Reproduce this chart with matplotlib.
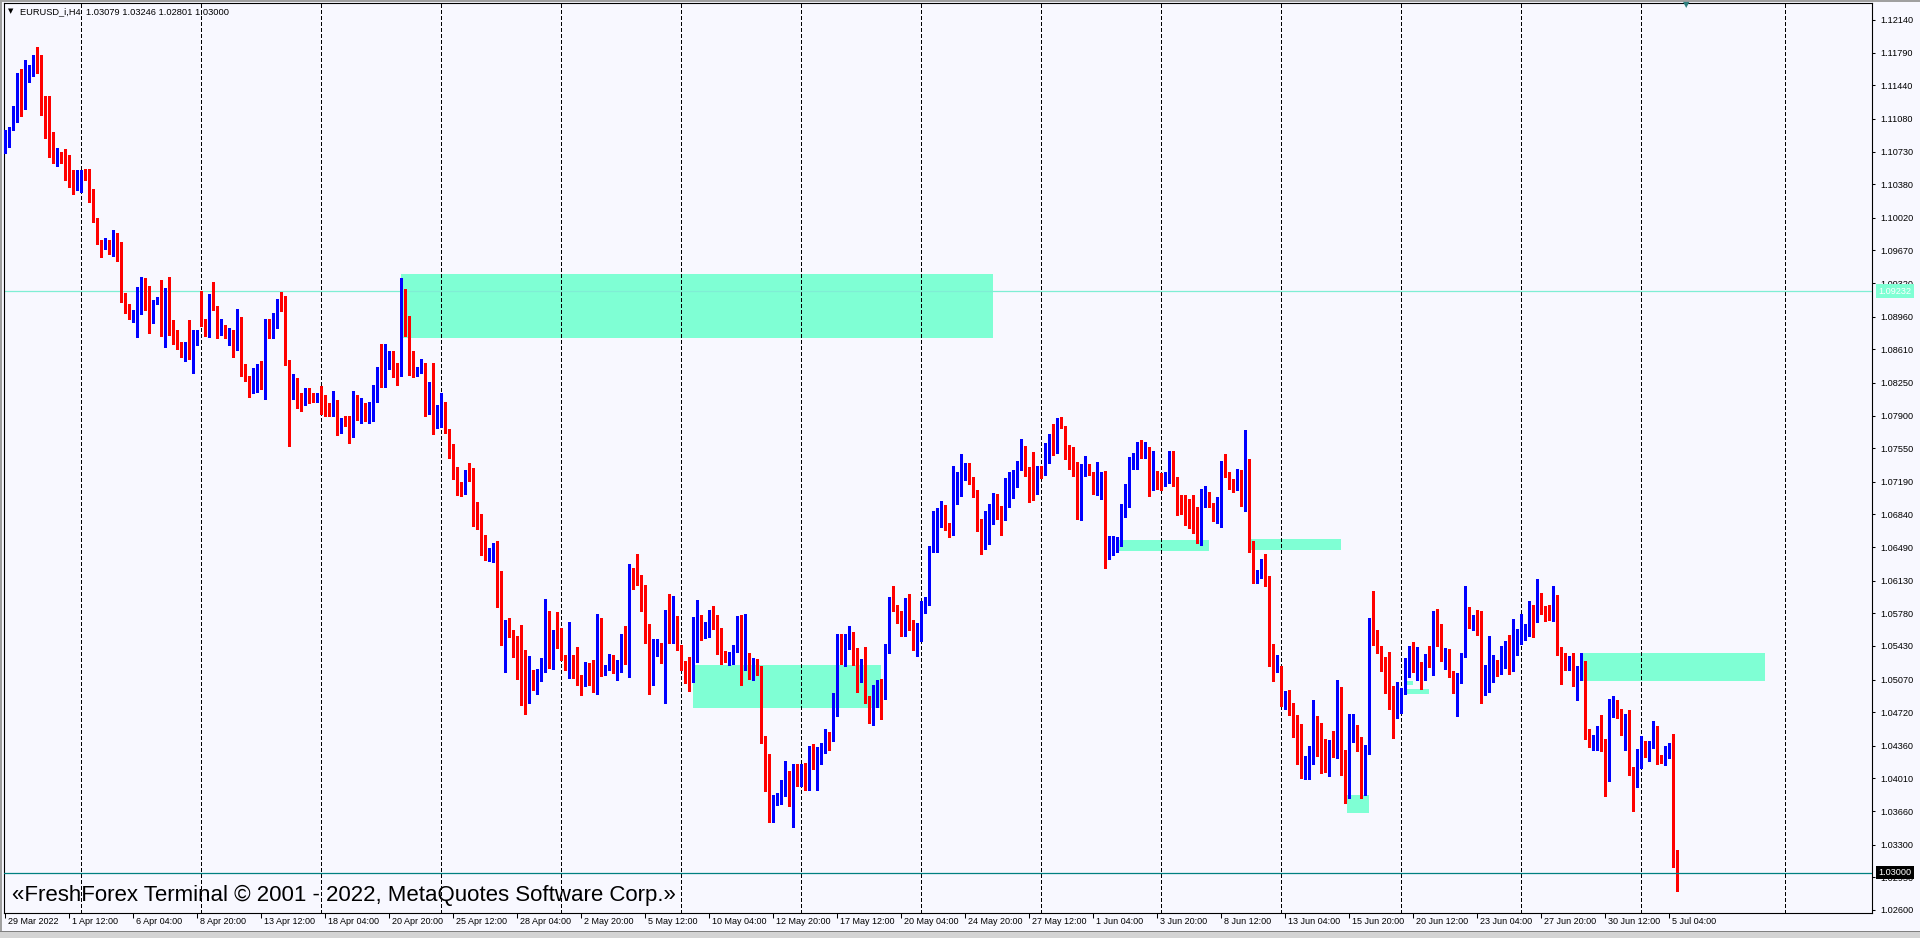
import numpy as np
import pandas as pd
import matplotlib
matplotlib.use("Agg")
import matplotlib.pyplot as plt
from matplotlib.patches import Rectangle

plt.rcParams["font.family"] = ["Liberation Sans", "DejaVu Sans"]

symbol = "EURUSD_i,H4"
first_bar = "2022-03-29 20:00"
last_bar = "2022-07-05 12:00"

# H4 bars, prices in points (1 point = 0.0001)
open_pts = [
    11080, 11086, 11097, 11110, 11157, 11125, 11156, 11156, 11174, 11161,
    11129, 11102, 11082, 11062, 11067, 11064, 11061, 11044, 11039, 11031,
    11049, 11049, 11022, 10999, 10975, 10969, 10976, 10963, 10968, 10964,
    10915, 10906, 10894, 10896, 10923, 10933, 10908, 10890, 10911, 10915,
    10878, 10914, 10877, 10876, 10863, 10854, 10867, 10852, 10873, 10916,
    10888, 10884, 10907, 10905, 10877, 10883, 10875, 10880, 10862, 10895,
    10842, 10828, 10816, 10834, 10837, 10818, 10883, 10880, 10885, 10913,
    10908, 10849, 10816, 10828, 10809, 10805, 10818, 10812, 10805, 10803,
    10801, 10792, 10790, 10806, 10773, 10780, 10779, 10772, 10811, 10794,
    10797, 10787, 10795, 10819, 10840, 10828, 10843, 10849, 10837, 10832,
    10921, 10891, 10844, 10834, 10837, 10845, 10797, 10819, 10779, 10801,
    10803, 10774, 10750, 10728, 10716, 10710, 10731, 10728, 10682, 10679,
    10660, 10636, 10643, 10649, 10588, 10555, 10563, 10560, 10539, 10518,
    10516, 10484, 10513, 10497, 10515, 10515, 10570, 10531, 10550, 10548,
    10530, 10518, 10529, 10511, 10510, 10502, 10525, 10502, 10500, 10568,
    10515, 10519, 10525, 10517, 10522, 10551, 10549, 10618, 10615, 10613,
    10600, 10554, 10511, 10540, 10542, 10532, 10557, 10554, 10570, 10539,
    10520, 10513, 10507, 10562, 10573, 10552, 10558, 10576, 10573, 10552,
    10534, 10524, 10531, 10540, 10568, 10520, 10532, 10514, 10525, 10519,
    10441, 10416, 10358, 10380, 10381, 10397, 10408, 10377, 10409, 10407,
    10411, 10398, 10433, 10423, 10424, 10434, 10447, 10441, 10490, 10543,
    10542, 10543, 10555, 10529, 10508, 10522, 10489, 10460, 10488, 10497,
    10495, 10536, 10593, 10582, 10576, 10573, 10577, 10565, 10549, 10560,
    10582, 10591, 10644, 10648, 10677, 10688, 10670, 10663, 10704, 10707,
    10730, 10732, 10723, 10706, 10671, 10651, 10653, 10677, 10705, 10682,
    10682, 10697, 10706, 10714, 10740, 10754, 10731, 10716, 10710, 10735,
    10730, 10757, 10764, 10752, 10786, 10774, 10746, 10744, 10730, 10681,
    10731, 10732, 10728, 10714, 10718, 10726, 10639, 10642, 10656, 10657,
    10683, 10702, 10745, 10742, 10760, 10746, 10754, 10716, 10729, 10720,
    10716, 10726, 10751, 10723, 10701, 10691, 10685, 10683, 10679, 10654,
    10701, 10701, 10693, 10678, 10678, 10732, 10728, 10717, 10711, 10726,
    10715, 10734, 10652, 10615, 10623, 10631, 10615, 10524, 10516, 10516,
    10485, 10492, 10476, 10466, 10437, 10408, 10423, 10423, 10466, 10449,
    10421, 10406, 10435, 10426, 10494, 10415, 10385, 10450, 10453, 10439,
    10410, 10428, 10560, 10547, 10541, 10528, 10521, 10495, 10467, 10476,
    10493, 10522, 10525, 10516, 10524, 10507, 10533, 10522, 10579, 10551,
    10534, 10531, 10513, 10496, 10507, 10531, 10576, 10564, 10576, 10568,
    10493, 10504, 10508, 10518, 10517, 10541, 10545, 10524, 10547, 10546,
    10557, 10564, 10585, 10569, 10598, 10582, 10576, 10575, 10592, 10538,
    10524, 10517, 10522, 10504, 10510, 10522, 10445, 10438, 10441, 10453,
    10441, 10398, 10482, 10479, 10471, 10453, 10458, 10407, 10400, 10414,
    10435, 10426, 10437, 10452, 10425, 10415, 10434, 10438, 10307.9,
]
high_pts = [
    11096, 11099, 11122, 11157, 11161, 11171, 11166, 11176, 11185, 11176,
    11132, 11132, 11094, 11077, 11073, 11076, 11069, 11053, 11053, 11053,
    11054, 11054, 11033, 11002, 10978, 10980, 10978, 10989, 10986, 10976,
    10921, 10910, 10903, 10928, 10938, 10937, 10929, 10914, 10917, 10935,
    10927, 10938, 10892, 10882, 10869, 10869, 10892, 10882, 10882, 10923,
    10894, 10920, 10933, 10907, 10894, 10887, 10884, 10882, 10904, 10896,
    10845, 10832, 10841, 10845, 10848, 10894, 10893, 10900, 10915, 10922,
    10918, 10850, 10835, 10830, 10814, 10819, 10819, 10814, 10814, 10822,
    10812, 10803, 10816, 10807, 10787, 10789, 10789, 10816, 10812, 10809,
    10803, 10804, 10823, 10842, 10867, 10867, 10859, 10859, 10846, 10937,
    10926, 10897, 10859, 10842, 10851, 10846, 10826, 10846, 10801, 10814,
    10805, 10776, 10759, 10735, 10719, 10732, 10739, 10734, 10697, 10685,
    10662, 10648, 10653, 10655, 10623, 10571, 10573, 10560, 10554, 10565,
    10539, 10532, 10517, 10518, 10530, 10593, 10581, 10560, 10579, 10562,
    10533, 10569, 10533, 10542, 10512, 10526, 10525, 10528, 10577, 10573,
    10523, 10534, 10533, 10528, 10556, 10564, 10631, 10627, 10642, 10619,
    10608, 10567, 10550, 10550, 10546, 10582, 10599, 10597, 10575, 10544,
    10527, 10531, 10574, 10592, 10576, 10569, 10582, 10586, 10576, 10562,
    10538, 10537, 10544, 10575, 10576, 10577, 10535, 10530, 10529, 10521,
    10447, 10427, 10383, 10385, 10399, 10420, 10409, 10417, 10416, 10417,
    10418, 10436, 10438, 10435, 10439, 10454, 10451, 10493, 10556, 10556,
    10556, 10564, 10558, 10541, 10529, 10542, 10489, 10501, 10507, 10508,
    10545, 10596, 10607, 10587, 10580, 10594, 10599, 10571, 10568, 10591,
    10596, 10650, 10688, 10691, 10698, 10694, 10675, 10736, 10729, 10749,
    10739, 10739, 10724, 10710, 10679, 10688, 10695, 10707, 10706, 10693,
    10723, 10730, 10732, 10741, 10765, 10757, 10735, 10751, 10736, 10736,
    10761, 10770, 10781, 10787, 10788, 10779, 10758, 10756, 10740, 10738,
    10747, 10738, 10730, 10740, 10729, 10731, 10661, 10661, 10660, 10695,
    10717, 10746, 10750, 10762, 10764, 10762, 10756, 10752, 10731, 10728,
    10729, 10752, 10752, 10724, 10705, 10705, 10701, 10705, 10692, 10711,
    10714, 10708, 10696, 10703, 10741, 10749, 10729, 10722, 10733, 10732,
    10774, 10743, 10656, 10624, 10636, 10642, 10618, 10545, 10533, 10521,
    10495, 10496, 10482, 10469, 10459, 10425, 10436, 10485, 10468, 10460,
    10443, 10442, 10452, 10507, 10499, 10432, 10470, 10470, 10458, 10445,
    10437, 10573, 10602, 10560, 10543, 10531, 10537, 10500, 10504, 10498,
    10530, 10543, 10547, 10542, 10526, 10534, 10543, 10580, 10583, 10567,
    10541, 10540, 10516, 10514, 10536, 10607, 10585, 10576, 10582, 10580,
    10523, 10554, 10533, 10528, 10543, 10548, 10555, 10572, 10561, 10577,
    10567, 10591, 10587, 10615, 10600, 10586, 10587, 10607, 10598, 10542,
    10535, 10532, 10535, 10521, 10535, 10527, 10454, 10448, 10457, 10469,
    10443, 10486, 10489, 10485, 10475, 10470, 10474, 10413, 10433, 10447,
    10441, 10441, 10463, 10457, 10426, 10436, 10439, 10449, 10324.6,
]
low_pts = [
    11071, 11078, 11096, 11105, 11111, 11119, 11148, 11154, 11157, 11112,
    11088, 11067, 11061, 11058, 11061, 11042, 11035, 11028, 11032, 11030,
    11042, 11019, 10997, 10974, 10960, 10968, 10963, 10961, 10956, 10912,
    10900, 10893, 10890, 10874, 10899, 10903, 10879, 10889, 10910, 10875,
    10864, 10876, 10867, 10861, 10853, 10848, 10851, 10836, 10866, 10886,
    10875, 10874, 10903, 10873, 10876, 10873, 10866, 10853, 10860, 10832,
    10827, 10810, 10814, 10815, 10818, 10808, 10873, 10873, 10884, 10902,
    10844, 10757, 10808, 10798, 10795, 10801, 10803, 10804, 10804, 10792,
    10789, 10789, 10789, 10769, 10771, 10779, 10761, 10767, 10785, 10782,
    10784, 10782, 10784, 10805, 10821, 10821, 10840, 10831, 10823, 10832,
    10875, 10833, 10831, 10832, 10836, 10790, 10792, 10770, 10777, 10778,
    10771, 10745, 10722, 10705, 10704, 10706, 10720, 10672, 10668, 10641,
    10635, 10634, 10633, 10585, 10544, 10515, 10553, 10531, 10508, 10480,
    10470, 10482, 10496, 10491, 10505, 10515, 10519, 10518, 10541, 10528,
    10517, 10509, 10509, 10501, 10490, 10500, 10501, 10494, 10492, 10511,
    10512, 10517, 10514, 10506, 10515, 10524, 10510, 10604, 10608, 10581,
    10546, 10492, 10501, 10532, 10525, 10482, 10546, 10546, 10539, 10517,
    10503, 10495, 10504, 10526, 10549, 10552, 10553, 10561, 10534, 10524,
    10526, 10523, 10524, 10537, 10501, 10517, 10508, 10507, 10512, 10439,
    10388, 10354, 10354, 10373, 10374, 10382, 10371, 10349, 10393, 10393,
    10389, 10389, 10411, 10389, 10417, 10428, 10432, 10441, 10468, 10524,
    10521, 10540, 10523, 10494, 10504, 10482, 10460, 10458, 10478, 10465,
    10486, 10535, 10581, 10568, 10554, 10554, 10560, 10539, 10532, 10548,
    10578, 10587, 10644, 10644, 10671, 10667, 10660, 10662, 10695, 10704,
    10721, 10717, 10703, 10666, 10642, 10647, 10652, 10674, 10679, 10662,
    10678, 10692, 10702, 10713, 10732, 10725, 10697, 10700, 10706, 10723,
    10726, 10739, 10748, 10750, 10777, 10743, 10733, 10725, 10679, 10678,
    10725, 10726, 10706, 10705, 10701, 10627, 10636, 10641, 10644, 10650,
    10681, 10692, 10733, 10733, 10745, 10745, 10704, 10710, 10711, 10710,
    10715, 10718, 10715, 10683, 10684, 10673, 10669, 10664, 10653, 10651,
    10692, 10692, 10677, 10675, 10671, 10724, 10711, 10708, 10710, 10693,
    10688, 10644, 10611, 10611, 10616, 10607, 10521, 10505, 10515, 10479,
    10475, 10469, 10445, 10417, 10401, 10400, 10400, 10417, 10425, 10407,
    10408, 10404, 10424, 10423, 10405, 10375, 10380, 10440, 10430, 10380,
    10383, 10427, 10544, 10535, 10516, 10493, 10475, 10444, 10466, 10471,
    10491, 10510, 10515, 10507, 10497, 10506, 10520, 10512, 10543, 10527,
    10518, 10510, 10493, 10468, 10503, 10531, 10562, 10560, 10555, 10482,
    10490, 10494, 10504, 10511, 10513, 10519, 10513, 10516, 10533, 10545,
    10549, 10554, 10553, 10569, 10577, 10570, 10571, 10570, 10533, 10502,
    10517, 10517, 10500, 10485, 10506, 10443, 10435, 10432, 10432, 10430,
    10382, 10398, 10467, 10466, 10448, 10432, 10405, 10366, 10392, 10412,
    10424, 10420, 10434, 10417, 10418, 10415, 10423, 10306, 10280.1,
]
close_pts = [
    11087, 11098, 11111, 11157, 11125, 11157, 11158, 11174, 11158, 11128,
    11101, 11081, 11063, 11067, 11063, 11060, 11044, 11039, 11049, 11049,
    11047, 11021, 10998, 10974, 10971, 10976, 10964, 10968, 10964, 10914,
    10903, 10894, 10897, 10927, 10933, 10907, 10891, 10912, 10915, 10877,
    10914, 10876, 10876, 10862, 10854, 10867, 10853, 10873, 10877, 10887,
    10884, 10907, 10905, 10877, 10883, 10874, 10880, 10862, 10895, 10841,
    10827, 10816, 10834, 10837, 10818, 10883, 10880, 10885, 10913, 10908,
    10847, 10816, 10828, 10808, 10805, 10818, 10811, 10806, 10813, 10800,
    10792, 10790, 10806, 10773, 10784, 10779, 10772, 10811, 10794, 10797,
    10788, 10797, 10819, 10840, 10828, 10843, 10855, 10835, 10832, 10921,
    10891, 10834, 10832, 10838, 10846, 10797, 10819, 10779, 10797, 10802,
    10774, 10750, 10728, 10714, 10711, 10731, 10727, 10682, 10678, 10659,
    10636, 10644, 10649, 10587, 10555, 10563, 10558, 10538, 10517, 10515,
    10484, 10513, 10497, 10516, 10516, 10570, 10531, 10550, 10542, 10530,
    10518, 10529, 10510, 10509, 10507, 10525, 10501, 10500, 10568, 10515,
    10519, 10525, 10517, 10523, 10552, 10549, 10618, 10614, 10612, 10600,
    10553, 10511, 10540, 10542, 10532, 10557, 10554, 10570, 10545, 10519,
    10512, 10507, 10563, 10574, 10558, 10559, 10576, 10571, 10551, 10533,
    10529, 10532, 10541, 10568, 10521, 10532, 10513, 10525, 10518, 10440,
    10415, 10358, 10381, 10382, 10398, 10408, 10377, 10409, 10407, 10410,
    10398, 10433, 10423, 10425, 10435, 10447, 10441, 10491, 10543, 10542,
    10550, 10555, 10528, 10508, 10522, 10486, 10460, 10489, 10496, 10495,
    10538, 10595, 10582, 10575, 10573, 10577, 10564, 10549, 10562, 10582,
    10591, 10646, 10650, 10678, 10692, 10669, 10662, 10705, 10708, 10731,
    10736, 10722, 10704, 10670, 10651, 10654, 10678, 10705, 10681, 10681,
    10698, 10707, 10730, 10741, 10754, 10730, 10715, 10710, 10732, 10730,
    10758, 10763, 10752, 10786, 10779, 10745, 10743, 10729, 10681, 10732,
    10732, 10727, 10714, 10719, 10726, 10639, 10652, 10657, 10658, 10685,
    10703, 10745, 10746, 10760, 10746, 10753, 10716, 10729, 10718, 10716,
    10727, 10751, 10722, 10699, 10695, 10683, 10682, 10678, 10654, 10702,
    10705, 10692, 10678, 10679, 10732, 10727, 10716, 10711, 10726, 10715,
    10734, 10651, 10617, 10623, 10631, 10615, 10522, 10517, 10519, 10485,
    10492, 10475, 10466, 10436, 10408, 10424, 10425, 10466, 10449, 10420,
    10418, 10435, 10426, 10494, 10414, 10385, 10448, 10453, 10438, 10410,
    10428, 10560, 10549, 10540, 10527, 10520, 10494, 10467, 10496, 10494,
    10524, 10525, 10516, 10524, 10510, 10533, 10522, 10579, 10550, 10533,
    10535, 10512, 10496, 10507, 10532, 10575, 10568, 10574, 10567, 10493,
    10505, 10509, 10522, 10517, 10541, 10545, 10524, 10548, 10557, 10556,
    10566, 10585, 10569, 10598, 10581, 10576, 10575, 10592, 10537, 10523,
    10520, 10522, 10504, 10511, 10522, 10444, 10441, 10442, 10453, 10441,
    10398, 10483, 10484, 10471, 10453, 10458, 10406, 10401, 10425, 10435,
    10426, 10437, 10452, 10423, 10422, 10435, 10438, 10308, 10300,
]

date_labels = [
    "29 Mar 2022", "1 Apr 12:00", "6 Apr 04:00", "8 Apr 20:00", "13 Apr 12:00",
    "18 Apr 04:00", "20 Apr 20:00", "25 Apr 12:00", "28 Apr 04:00", "2 May 20:00",
    "5 May 12:00", "10 May 04:00", "12 May 20:00", "17 May 12:00", "20 May 04:00",
    "24 May 20:00", "27 May 12:00", "1 Jun 04:00", "3 Jun 20:00", "8 Jun 12:00",
    "13 Jun 04:00", "15 Jun 20:00", "20 Jun 12:00", "23 Jun 04:00", "27 Jun 20:00",
    "30 Jun 12:00", "5 Jul 04:00",
]
bars_per_label = 16

price_ticks = [
    1.12140, 1.11790, 1.11440, 1.11080, 1.10730, 1.10380, 1.10020, 1.09670,
    1.09320, 1.08960, 1.08610, 1.08250, 1.07900, 1.07550, 1.07190, 1.06840,
    1.06490, 1.06130, 1.05780, 1.05430, 1.05070, 1.04720, 1.04360, 1.04010,
    1.03660, 1.03300, 1.02950, 1.02600,
]

hline_level = 1.09232
bid_level = 1.03000

# rectangles drawn on the chart (bar index from/to, price top/bottom)
zone_start = [99, 172, 278.25, 311.5, 335.5, 350.4, 350.4, 394.2]
zone_end = [247, 219, 301, 334, 341, 352, 356, 439.9]
zone_top = [1.09417, 1.05226, 1.06566, 1.06577, 1.03833, 1.05055, 1.04969, 1.05355]
zone_bottom = [1.08735, 1.04768, 1.06451, 1.06462, 1.03643, 1.05012, 1.04918, 1.05055]

future_grid_bar = 445

opens = np.array(open_pts) / 1e4
highs = np.array(high_pts) / 1e4
lows = np.array(low_pts) / 1e4
closes = np.array(close_pts) / 1e4
highs = np.maximum(highs, np.maximum(opens, closes))
lows = np.minimum(lows, np.minimum(opens, closes))

times = pd.date_range(first_bar, last_bar, freq="4h")
times = times[times.dayofweek < 5][: len(closes)]
week_bars = [i for i, t in enumerate(times) if t.dayofweek == 0 and t.hour == 0]
grid_bars = week_bars + [future_grid_bar]

W, H = 1920, 938
BG = "#F8F8FF"
fig = plt.figure(figsize=(W / 100, H / 100), dpi=100, facecolor=BG)
ax = fig.add_axes([4 / W, 1 - 913 / H, 1868 / W, 910 / H])
ax.set_facecolor(BG)
ax.set_xlim(-0.25, 466.75)
ax.set_ylim(1.025677, 1.123222)
for s in ax.spines.values():
    s.set_color("black")
    s.set_linewidth(0.8)

x = np.arange(len(closes))
cols = np.where(closes >= opens, "#0000FF", "#FF0000")
ax.vlines(x, lows, highs, colors=cols, linewidth=0.75, zorder=3, antialiased=False)
body_lo = np.minimum(opens, closes)
body_h = np.maximum(np.abs(closes - opens), 0.00008)
ax.bar(x, body_h, bottom=body_lo, width=0.75, color=cols, linewidth=0,
       zorder=4, antialiased=False)

for xs, xe, top, bot in zip(zone_start, zone_end, zone_top, zone_bottom):
    ax.add_patch(Rectangle((xs, bot), xe - xs, top - bot, facecolor="#7FFFD4",
                           edgecolor="none", zorder=1))

for b in grid_bars:
    ax.axvline(b, color="black", linewidth=0.75, linestyle=(0, (3.5, 2.5)),
               zorder=2, antialiased=False)

ax.axhline(hline_level, color="#7FEED4", linewidth=0.9, zorder=2)
ax.axhline(bid_level, color="#008080", linewidth=0.9, zorder=5)

# price scale
ax.yaxis.tick_right()
ax.set_yticks(price_ticks)
ax.set_yticklabels([f"{p:.5f}" for p in price_ticks])
ax.tick_params(axis="y", length=2.5, width=0.75, pad=3.5, labelsize=6.6,
               colors="black")
for lvl, fc in [(hline_level, "#7FFFD4"), (bid_level, "black")]:
    ax.annotate(f"{lvl:.5f}", xy=(1, lvl), xycoords=("axes fraction", "data"),
                xytext=(4.6, 0), textcoords="offset points", ha="left",
                va="center", fontsize=6.6, color="white", zorder=10,
                annotation_clip=False,
                bbox=dict(boxstyle="square,pad=0.25", fc=fc, ec="none"))

# time scale
label_bars = np.arange(len(date_labels)) * bars_per_label
ax.set_xticks(label_bars)
ax.set_xticklabels([])
ax.tick_params(axis="x", length=3.5, width=0.75, direction="out")
for b, lab in zip(label_bars, date_labels):
    ax.annotate(lab, xy=(b, 0), xycoords=("data", "axes fraction"),
                xytext=(2, -3), textcoords="offset points", ha="left",
                va="top", fontsize=6.5, annotation_clip=False)

# header and watermark
fig.text(8 / W, 1 - 11.5 / H, "\u25bc", fontsize=5, va="center",
         family="DejaVu Sans")
fig.text(20.5 / W, 1 - 11.5 / H,
         f"{symbol}  {opens[-1]:.5f} {highs[-1]:.5f} {lows[-1]:.5f} {closes[-1]:.5f}",
         fontsize=6.7, va="center")
fig.text(1686 / W, 1 - 5 / H, "\u25bc", fontsize=6, ha="center", va="center",
         color="#2F7F7F", family="DejaVu Sans")
fig.text(12 / W, 1 - 895 / H,
         "\u00abFreshForex Terminal \u00a9 2001 - 2022, MetaQuotes Software Corp.\u00bb",
         fontsize=16, va="center")

# window frame
fig.patches.append(Rectangle((0, 1 - 2 / H), 1, 2 / H, transform=fig.transFigure,
                             facecolor="#A0A0A0", edgecolor="none"))
fig.patches.append(Rectangle((0, 0), 2 / W, 1, transform=fig.transFigure,
                             facecolor="#A0A0A0", edgecolor="none"))
fig.patches.append(Rectangle((0, 0), 1, 6 / H, transform=fig.transFigure,
                             facecolor="#D4D4D4", edgecolor="none"))
fig.patches.append(Rectangle((0, 6 / H), 1, 1 / H, transform=fig.transFigure,
                             facecolor="#808080", edgecolor="none"))

fig.savefig("out.png", dpi=100, facecolor=BG)
